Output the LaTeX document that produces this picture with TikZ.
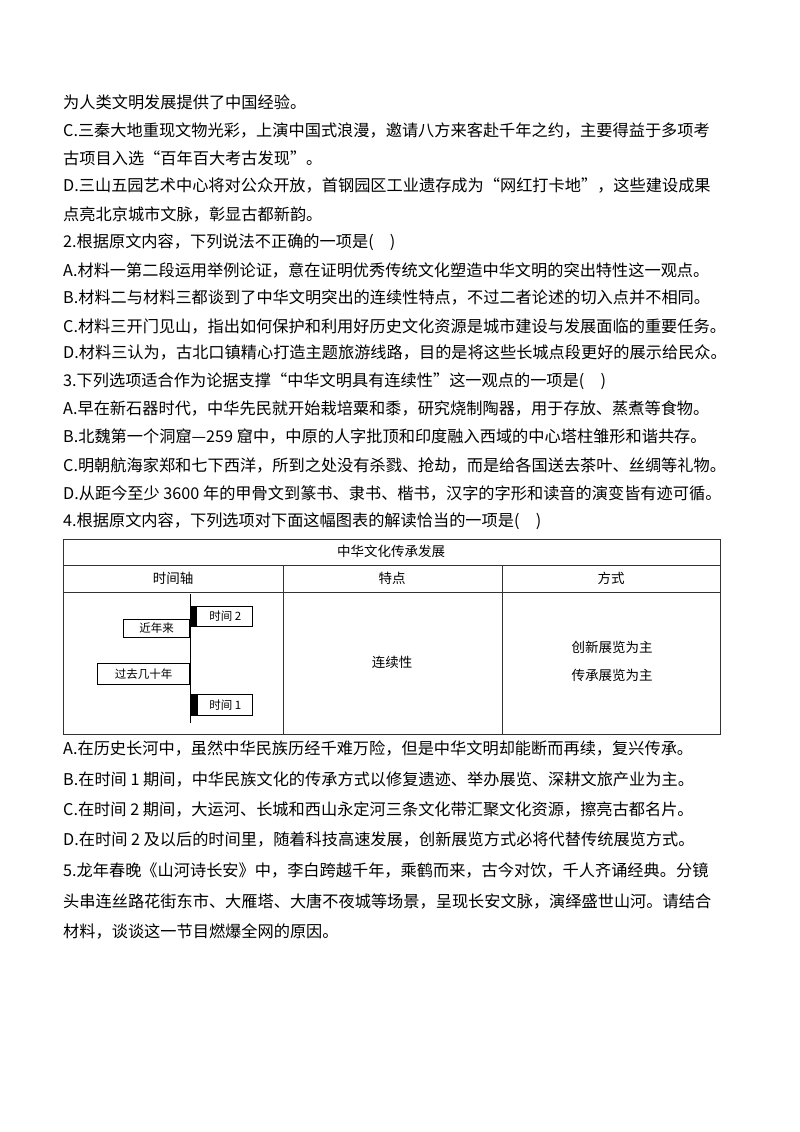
\documentclass[tikz,border=0pt]{standalone}
\usepackage{fontspec}
\setmainfont{Noto Sans CJK SC}
\begin{document}
\begin{tikzpicture}[x=1pt,y=-1pt,
  line/.style={anchor=west,inner sep=0pt,font=\fontsize{16.2}{17}\selectfont},
  cell/.style={inner sep=0pt,font=\fontsize{13.5}{14}\selectfont},
  tbox/.style={draw,line width=0.8pt,inner sep=0pt,font=\fontsize{11.5}{12}\selectfont},
  grid/.style={line width=0.8pt,draw=black!80}]
\useasboundingbox[fill=white] (0,0) rectangle (800,1132);
\node[line] (l1) at (63,102) {为人类文明发展提供了中国经验。};
\node[line] (l2) at (63,130) {C.三秦大地重现文物光彩，上演中国式浪漫，邀请八方来客赴千年之约，主要得益于多项考};
\node[line] (l3) at (63,158) {古项目入选“百年百大考古发现”。};
\node[line] (l4) at (63,186) {D.三山五园艺术中心将对公众开放，首钢园区工业遗存成为“网红打卡地”，这些建设成果};
\node[line] (l5) at (63,214) {点亮北京城市文脉，彰显古都新韵。};
\node[line] (l6) at (63,242) {2.根据原文内容，下列说法不正确的一项是(\quad)};
\node[line] (l7) at (63,270) {A.材料一第二段运用举例论证，意在证明优秀传统文化塑造中华文明的突出特性这一观点。};
\node[line] (l8) at (63,298) {B.材料二与材料三都谈到了中华文明突出的连续性特点，不过二者论述的切入点并不相同。};
\node[line] (l9) at (63,326) {C.材料三开门见山，指出如何保护和利用好历史文化资源是城市建设与发展面临的重要任务。};
\node[line] (l10) at (63,353) {D.材料三认为，古北口镇精心打造主题旅游线路，目的是将这些长城点段更好的展示给民众。};
\node[line] (l11) at (63,381) {3.下列选项适合作为论据支撑“中华文明具有连续性”这一观点的一项是(\quad)};
\node[line] (l12) at (63,409) {A.早在新石器时代，中华先民就开始栽培粟和黍，研究烧制陶器，用于存放、蒸煮等食物。};
\node[line] (l13) at (63,437) {B.北魏第一个洞窟—259 窟中，中原的人字批顶和印度融入西域的中心塔柱雏形和谐共存。};
\node[line] (l14) at (63,465) {C.明朝航海家郑和七下西洋，所到之处没有杀戮、抢劫，而是给各国送去茶叶、丝绸等礼物。};
\node[line] (l15) at (63,493) {D.从距今至少 3600 年的甲骨文到篆书、隶书、楷书，汉字的字形和读音的演变皆有迹可循。};
\node[line] (l16) at (63,521) {4.根据原文内容，下列选项对下面这幅图表的解读恰当的一项是(\quad)};
% table
\draw[grid] (63,539) rectangle (720,734);
\draw[grid] (63,565) -- (720,565);
\draw[grid] (63,592) -- (720,592);
\draw[grid] (283,565) -- (283,734);
\draw[grid] (502,565) -- (502,734);
\node[cell] (title) at (391,551) {中华文化传承发展};
\node[cell] (h1) at (173,578) {时间轴};
\node[cell] (h2) at (392,578) {特点};
\node[cell] (h3) at (611,578) {方式};
\node[cell] (c2) at (392,662) {连续性};
\node[cell] (c3a) at (612,647) {创新展览为主};
\node[cell] (c3b) at (612,675) {传承展览为主};
% timeline
\coordinate (ttop) at (190,594);
\coordinate (tbot) at (190,723);
\draw[line width=0.9pt] (ttop) -- (tbot);
\node[tbox,minimum width=62pt,minimum height=20pt,anchor=north west] (t2) at (190,606) {\hspace*{8pt}时间 2};
\fill (t2.north west) rectangle ([xshift=7pt]t2.south west);
\node[tbox,minimum width=66pt,minimum height=18pt,anchor=north east] (jin) at (190,619) {近年来};
\node[tbox,minimum width=92pt,minimum height=21pt,anchor=north east] (guo) at (190,663) {过去几十年};
\node[tbox,minimum width=62pt,minimum height=21pt,anchor=north west] (t1) at (190,694) {\hspace*{8pt}时间 1};
\fill (t1.north west) rectangle ([xshift=8pt]t1.south west);
% after table
\node[line] (m1) at (63,748) {A.在历史长河中，虽然中华民族历经千难万险，但是中华文明却能断而再续，复兴传承。};
\node[line] (m2) at (63,779) {B.在时间 1 期间，中华民族文化的传承方式以修复遗迹、举办展览、深耕文旅产业为主。};
\node[line] (m3) at (63,809) {C.在时间 2 期间，大运河、长城和西山永定河三条文化带汇聚文化资源，擦亮古都名片。};
\node[line] (m4) at (63,840) {D.在时间 2 及以后的时间里，随着科技高速发展，创新展览方式必将代替传统展览方式。};
\node[line] (m5) at (63,870) {5.龙年春晚《山河诗长安》中，李白跨越千年，乘鹤而来，古今对饮，千人齐诵经典。分镜};
\node[line] (m6) at (63,901) {头串连丝路花街东市、大雁塔、大唐不夜城等场景，呈现长安文脉，演绎盛世山河。请结合};
\node[line] (m7) at (63,931) {材料，谈谈这一节目燃爆全网的原因。};
\end{tikzpicture}
\end{document}
